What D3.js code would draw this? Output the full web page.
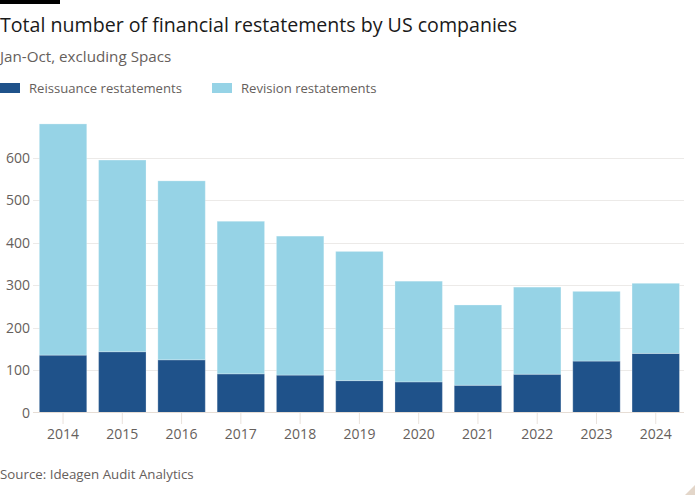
<!DOCTYPE html>
<html>
<head>
<meta charset="utf-8">
<script src="https://cdn.jsdelivr.net/npm/d3@7"></script>
<style>
  html, body { margin: 0; padding: 0; background: #fff; }
  svg { display: block; }
  text { font-family: "Open Sans", "Noto Sans", sans-serif; }
</style>
</head>
<body>
<div id="chart"></div>
<script>
const years = ["2014","2015","2016","2017","2018","2019","2020","2021","2022","2023","2024"];
const reissuance = [135, 143, 124, 91, 88, 75, 72, 64, 90, 121, 139];
const revision = [544, 451, 421, 359, 327, 304, 237, 189, 205, 164, 165];
const yTicks = [0, 100, 200, 300, 400, 500, 600];
const seriesNames = ["Reissuance restatements", "Revision restatements"];
const seriesColors = ["#1f528a", "#96d3e6"];

const W = 700, H = 500;
const svg = d3.select("#chart").append("svg").attr("width", W).attr("height", H);

// top black bar
svg.append("rect").attr("x", 0).attr("y", 0).attr("width", 60).attr("height", 4).attr("fill", "#000");

svg.append("text").attr("x", 0).attr("y", 32)
  .attr("font-size", 19.6).attr("fill", "#1a1a1a")
  .text("Total number of financial restatements by US companies");

svg.append("text").attr("x", 0).attr("y", 62)
  .attr("font-size", 15.2).attr("fill", "#66605c")
  .text("Jan-Oct, excluding Spacs");

// legend
const legX = [0, 212];
seriesNames.forEach((n, i) => {
  svg.append("rect").attr("x", legX[i]).attr("y", 83).attr("width", 20).attr("height", 10).attr("fill", seriesColors[i]);
  svg.append("text").attr("x", legX[i] + 29).attr("y", 93)
    .attr("font-size", 13.1).attr("fill", "#66605c").text(n);
});

const x = d3.scaleBand().domain(years).range([33.4, 685.4]).paddingInner(0.2).paddingOuter(0.1);
const y = d3.scaleLinear().domain([0, 600]).range([412.5, 157.5]);

// gridlines
const grid = svg.append("g");
yTicks.filter(t => t > 0).forEach(t => {
  grid.append("line").attr("x1", 33).attr("x2", 684)
    .attr("y1", Math.round(y(t)) + 0.5).attr("y2", Math.round(y(t)) + 0.5)
    .attr("stroke", "#eceae8").attr("stroke-width", 1);
});

// y axis labels
const yAxis = d3.axisLeft(y).tickValues(yTicks).tickSize(0).tickPadding(0);
const yg = svg.append("g").attr("transform", "translate(30,0)").call(yAxis);
yg.select(".domain").remove();
yg.selectAll("text").attr("font-size", 14).attr("fill", "#66605c")
  .attr("font-family", "Open Sans, Noto Sans, sans-serif").attr("dy", "0.35em");

// stacked bars
const data = years.map((yr, i) => ({ year: yr, reissuance: reissuance[i], revision: revision[i] }));
const stack = d3.stack().keys(["reissuance", "revision"])(data);
stack.forEach((layer, li) => {
  svg.append("g").selectAll("rect").data(layer).join("rect")
    .attr("x", d => x(d.data.year))
    .attr("width", x.bandwidth())
    .attr("y", d => y(d[1]))
    .attr("height", d => y(d[0]) - y(d[1]))
    .attr("fill", seriesColors[li])
    .attr("stroke", "rgba(255,255,255,0.25)")
    .attr("stroke-width", 1);
});

// x axis
const xAxis = d3.axisBottom(x).tickSize(11).tickPadding(5);
const xg = svg.append("g").attr("transform", "translate(0,413)").call(xAxis);
xg.select(".domain").remove();
xg.selectAll(".tick line").attr("stroke", "#e9e2dc");
xg.selectAll("text").attr("font-size", 14).attr("fill", "#66605c")
  .attr("font-family", "Open Sans, Noto Sans, sans-serif");
svg.append("line").attr("x1", 33).attr("x2", 684).attr("y1", 412.5).attr("y2", 412.5)
  .attr("stroke", "#e6ddd5").attr("stroke-width", 1);

svg.append("text").attr("x", 0).attr("y", 479)
  .attr("font-size", 13.3).attr("fill", "#66605c")
  .text("Source: Ideagen Audit Analytics");

// corner triangle
svg.append("path").attr("d", "M685,495 L695,485 L695,495 Z").attr("fill", "#e3d6c9");
</script>
</body>
</html>
